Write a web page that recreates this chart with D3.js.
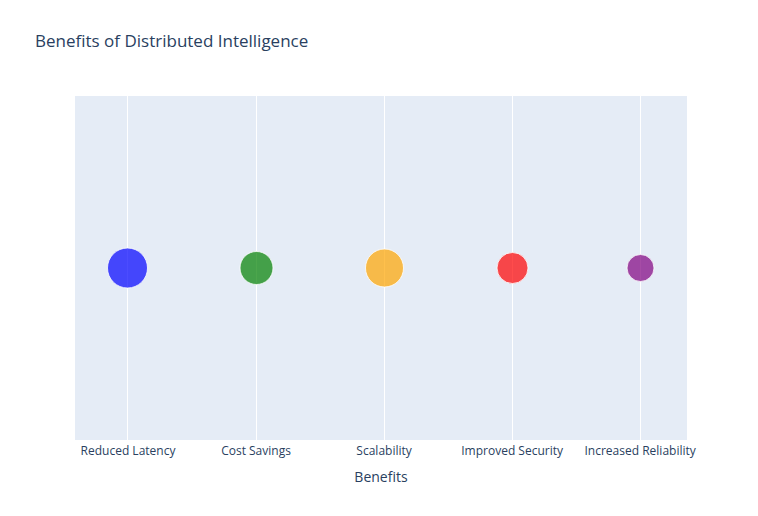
<!DOCTYPE html>
<html>
<head>
<meta charset="utf-8">
<script src="https://cdn.jsdelivr.net/npm/d3@7"></script>
<style>
  html, body { margin: 0; padding: 0; background: #fff; }
  svg { display: block; font-family: "Open Sans", "Noto Sans", sans-serif; }
</style>
</head>
<body>
<svg id="chart" width="758" height="516"></svg>
<script>
const categories = ["Reduced Latency", "Cost Savings", "Scalability", "Improved Security", "Increased Reliability"];
const sizes = [40, 33, 38, 31, 27];
const colors = ["blue", "green", "orange", "red", "purple"];
const yValues = [1, 1, 1, 1, 1];
const titleText = "Benefits of Distributed Intelligence";
const xTitle = "Benefits";

const W = 758, H = 516;
const margin = { left: 75, right: 71, top: 96, bottom: 76 };
const svg = d3.select("#chart");

const pw = W - margin.left - margin.right;
const ph = H - margin.top - margin.bottom;

const x = d3.scaleLinear().domain([-0.41, 4.37]).range([margin.left, margin.left + pw]);
const y = d3.scaleLinear().domain([0, 2]).range([margin.top + ph, margin.top]);
const r = d3.scaleLinear().domain([0, d3.max(sizes)]).range([0, 20]);

svg.append("rect")
  .attr("x", margin.left).attr("y", margin.top)
  .attr("width", pw).attr("height", ph)
  .attr("fill", "#E5ECF6");

// x grid lines
svg.append("g").selectAll("line").data(categories).join("line")
  .attr("x1", (d, i) => Math.round(x(i)) + 0.5).attr("x2", (d, i) => Math.round(x(i)) + 0.5)
  .attr("y1", margin.top).attr("y2", margin.top + ph)
  .attr("stroke", "#fff").attr("stroke-width", 1);

// x axis labels
const xAxis = d3.axisBottom(x)
  .tickValues(d3.range(categories.length))
  .tickFormat(i => categories[i])
  .tickSize(0).tickPadding(5);
const gx = svg.append("g").attr("transform", `translate(0,${margin.top + ph + 1})`).call(xAxis);
gx.select(".domain").remove();
gx.selectAll("text").attr("fill", "#2a3f5f").attr("font-size", 12)
  .attr("font-family", '"Open Sans", "Noto Sans", sans-serif');

// bubbles
svg.append("g").selectAll("circle").data(categories).join("circle")
  .attr("cx", (d, i) => Math.round(x(i)) + 0.5)
  .attr("cy", (d, i) => y(yValues[i]))
  .attr("r", (d, i) => r(sizes[i]))
  .attr("fill", (d, i) => colors[i])
  .attr("fill-opacity", 0.7)
  .attr("stroke", "#fff")
  .attr("stroke-opacity", 0.8)
  .attr("stroke-width", 1);

// title
svg.append("text")
  .attr("x", 35).attr("y", 47)
  .attr("fill", "#2a3f5f").attr("font-size", 17)
  .text(titleText);

// x axis title
svg.append("text")
  .attr("x", margin.left + pw / 2).attr("y", 482)
  .attr("text-anchor", "middle")
  .attr("fill", "#2a3f5f").attr("font-size", 14)
  .text(xTitle);
</script>
</body>
</html>
